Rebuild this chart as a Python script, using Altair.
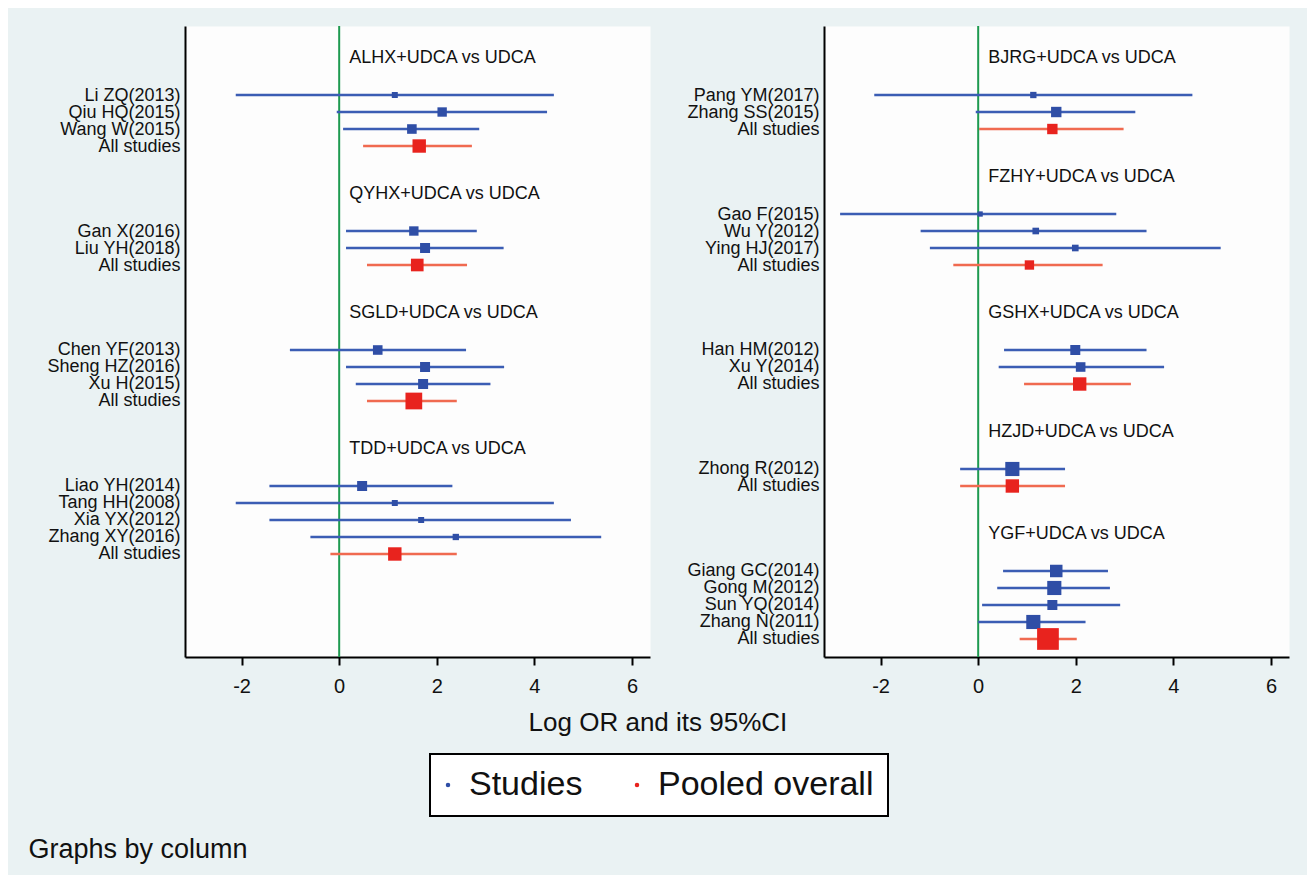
import json
import altair as alt
import pandas as pd

FONT = "Liberation Sans"
INK = "#111111"
BG = "#EAF2F3"
PLOT_BG = "#FDFDFD"
BLUE_LINE = "#3B5DB4"
BLUE_SQ = "#2F4EA6"
RED_LINE = "#F06A50"
RED_SQ = "#E8231E"
GREEN = "#1E9A50"

left_groups = ["ALHX+UDCA vs UDCA", "QYHX+UDCA vs UDCA",
               "SGLD+UDCA vs UDCA", "TDD+UDCA vs UDCA"]
right_groups = ["BJRG+UDCA vs UDCA", "FZHY+UDCA vs UDCA", "GSHX+UDCA vs UDCA",
                "HZJD+UDCA vs UDCA", "YGF+UDCA vs UDCA"]

row_group = ["ALHX+UDCA vs UDCA"] * 4 + ["QYHX+UDCA vs UDCA"] * 3 + \
            ["SGLD+UDCA vs UDCA"] * 4 + ["TDD+UDCA vs UDCA"] * 5 + \
            ["BJRG+UDCA vs UDCA"] * 3 + ["FZHY+UDCA vs UDCA"] * 4 + \
            ["GSHX+UDCA vs UDCA"] * 3 + ["HZJD+UDCA vs UDCA"] * 2 + \
            ["YGF+UDCA vs UDCA"] * 5
row_label = ["Li ZQ(2013)", "Qiu HQ(2015)", "Wang W(2015)", "All studies",
             "Gan X(2016)", "Liu YH(2018)", "All studies",
             "Chen YF(2013)", "Sheng HZ(2016)", "Xu H(2015)", "All studies",
             "Liao YH(2014)", "Tang HH(2008)", "Xia YX(2012)", "Zhang XY(2016)", "All studies",
             "Pang YM(2017)", "Zhang SS(2015)", "All studies",
             "Gao F(2015)", "Wu Y(2012)", "Ying HJ(2017)", "All studies",
             "Han HM(2012)", "Xu Y(2014)", "All studies",
             "Zhong R(2012)", "All studies",
             "Giang GC(2014)", "Gong M(2012)", "Sun YQ(2014)", "Zhang N(2011)", "All studies"]
row_logor = [1.14, 2.11, 1.49, 1.64, 1.53, 1.76, 1.60, 0.79, 1.76, 1.72, 1.53,
             0.47, 1.14, 1.68, 2.39, 1.14,
             1.13, 1.60, 1.52, 0.04, 1.18, 1.99, 1.05, 1.99, 2.10, 2.08,
             0.70, 0.70, 1.60, 1.56, 1.52, 1.13, 1.43]
row_lower = [-2.12, -0.05, 0.08, 0.49, 0.14, 0.14, 0.57, -1.01, 0.14, 0.34, 0.57,
             -1.43, -2.12, -1.43, -0.59, -0.18,
             -2.13, -0.05, 0.02, -2.83, -1.18, -0.99, -0.51, 0.53, 0.42, 0.94,
             -0.37, -0.37, 0.51, 0.39, 0.08, 0.00, 0.85]
row_upper = [4.40, 4.26, 2.87, 2.72, 2.82, 3.37, 2.62, 2.60, 3.38, 3.10, 2.41,
             2.32, 4.40, 4.75, 5.37, 2.41,
             4.39, 3.22, 2.98, 2.83, 3.45, 4.97, 2.55, 3.45, 3.81, 3.13,
             1.78, 1.78, 2.66, 2.70, 2.91, 2.20, 2.02]
row_weight = [9, 22, 23, 45, 22, 25, 40, 23, 25, 25, 70, 25, 9, 9, 10, 45,
              10, 27, 27, 7, 11, 11, 22, 25, 23, 45, 50, 45, 39, 50, 25, 50, 118]

x_ticks = [-2, 0, 2, 4, 6]
kinds = ["Studies", "Pooled overall"]


def build_rows(groups):
    recs, titles, r = [], [], 0
    for g in groups:
        titles.append({"group": g, "row": r})
        k = r + 2
        for gg, lab, est, lo, hi, w in zip(row_group, row_label, row_logor,
                                            row_lower, row_upper, row_weight):
            if gg != g:
                continue
            recs.append({"label": lab, "logor": est, "lower": lo, "upper": hi,
                         "weight": w, "row": k,
                         "kind": kinds[1] if lab == "All studies" else kinds[0]})
            k += 1
        r = k - 1 + 3
    return recs, titles


xscale = alt.Scale(domain=[-3.16, 6.37], nice=False, zero=False)
yscale = alt.Scale(domain=[-2.06, 35.06], reverse=True, nice=False, zero=False)
xaxis = alt.Axis(values=x_ticks, title=None, grid=False, tickSize=8, tickWidth=2,
                 tickColor="black", domainColor="black", domainWidth=2,
                 labelFontSize=20, labelPadding=11, labelFont=FONT,
                 labelColor=INK, labelFlush=False,
                 labelExpr="'' + datum.value")


def panel(groups):
    recs, titles = build_rows(groups)
    df = pd.DataFrame(recs)
    tdf = pd.DataFrame(titles)
    n = int(df["row"].max()) + 1
    names = [""] * n
    for rec in recs:
        names[rec["row"]] = rec["label"]
    label_expr = json.dumps(names) + "[datum.value]"
    yaxis = alt.Axis(values=[int(v) for v in df["row"]], labelExpr=label_expr,
                     title=None, ticks=False, grid=False, labelOverlap=False,
                     labelFontSize=18, labelPadding=5, labelFont=FONT,
                     labelColor=INK, domainColor="black", domainWidth=2)
    Y = alt.Y("row:Q", scale=yscale, axis=yaxis)

    zero = alt.Chart(pd.DataFrame({"ref": [0]})).mark_rule(
        color=GREEN, strokeWidth=2).encode(
        x=alt.X("ref:Q", scale=xscale, axis=xaxis))

    base = alt.Chart(df)
    ci_study = base.transform_filter(alt.datum.kind == kinds[0]).mark_rule(
        color=BLUE_LINE, strokeWidth=2.5).encode(
        x=alt.X("lower:Q", scale=xscale, axis=xaxis), x2="upper:Q", y=Y)
    ci_pool = base.transform_filter(alt.datum.kind == kinds[1]).mark_rule(
        color=RED_LINE, strokeWidth=2.5).encode(
        x=alt.X("lower:Q", scale=xscale, axis=xaxis), x2="upper:Q", y=Y)
    squares = base.mark_square(opacity=1).encode(
        x=alt.X("logor:Q", scale=xscale, axis=xaxis),
        y=Y,
        size=alt.Size("weight:Q", scale=alt.Scale(type="linear", domain=[0, 100],
                                                   range=[0, 400]), legend=None),
        color=alt.Color("kind:N", scale=alt.Scale(domain=kinds, range=[BLUE_SQ, RED_SQ]),
                        legend=alt.Legend(orient="none", title=None,
                                          direction="horizontal",
                                          legendX=245, legendY=728)),
    )
    heads = alt.Chart(tdf).mark_text(align="left", baseline="middle", dx=10, dy=-3,
                                     fontSize=18, font=FONT, color=INK).encode(
        x=alt.datum(0), y=Y, text="group:N")
    return alt.layer(zero, ci_study, ci_pool, squares, heads).properties(
        width=465, height=631)


inner = alt.hconcat(panel(left_groups), panel(right_groups), spacing=35).properties(
    title=alt.TitleParams("Log OR and its 95%CI", orient="bottom", anchor="middle",
                          fontSize=26, font=FONT, fontWeight="normal", color=INK,
                          offset=13, dx=-10))

chart = alt.vconcat(inner).properties(
    title=alt.TitleParams("Graphs by column", orient="bottom", anchor="start",
                          fontSize=27, font=FONT, fontWeight="normal", color=INK,
                          offset=20, dx=-18),
    padding={"left": 20, "top": 16, "right": 17, "bottom": 12},
    background=BG,
).configure_view(
    fill=PLOT_BG, stroke="transparent"
).configure_legend(
    labelFontSize=34, labelFont=FONT, labelColor=INK, symbolType="circle",
    symbolSize=20, strokeColor="black", strokeWidth=2, padding=14,
    columnPadding=50, labelOffset=4, fillColor="white",
    symbolStrokeWidth=0, labelLimit=400, symbolOffset=-13,
)

chart.save("out.html", embed_options={"renderer": "svg", "actions": False})
